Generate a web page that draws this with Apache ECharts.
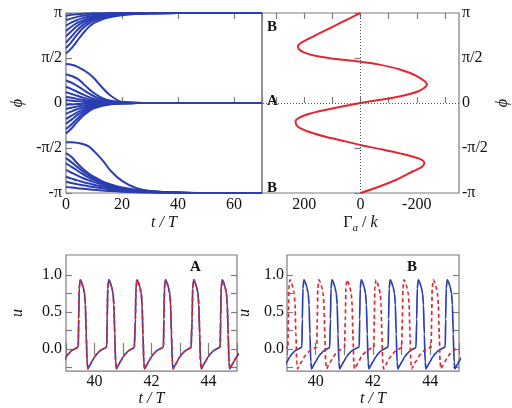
<!DOCTYPE html>
<html>
<head>
<meta charset="utf-8">
<title>phase locking</title>
<script src="https://cdn.jsdelivr.net/npm/echarts@6/dist/echarts.min.js"></script>
<style>
html, body { margin: 0; padding: 0; background: #fff; }
#chart { width: 512px; height: 408px; }
</style>
</head>
<body>
<div id="chart"></div>
<script>
// ---- top left: phase trajectories phi(t), phi in units of pi ----
var trajT = [0, 2, 4, 6, 8, 10, 13, 16, 20, 25, 30, 40, 50, 70];
var toPi = [
    [0.97, 0.98, 0.987, 0.992, 0.995, 0.997, 0.998, 0.999, 1, 1, 1, 1, 1, 1],
    [0.92, 0.94, 0.957, 0.97, 0.978, 0.985, 0.99, 0.994, 0.997, 0.999, 1, 1, 1, 1],
    [0.86, 0.895, 0.922, 0.943, 0.958, 0.97, 0.981, 0.988, 0.994, 0.997, 0.999, 1, 1, 1],
    [0.80, 0.85, 0.89, 0.918, 0.94, 0.956, 0.972, 0.982, 0.99, 0.995, 0.998, 1, 1, 1],
    [0.74, 0.80, 0.855, 0.895, 0.924, 0.945, 0.965, 0.977, 0.987, 0.994, 0.997, 1, 1, 1],
    [0.67, 0.74, 0.81, 0.865, 0.905, 0.932, 0.957, 0.972, 0.985, 0.993, 0.997, 1, 1, 1],
    [0.61, 0.68, 0.76, 0.83, 0.88, 0.915, 0.947, 0.966, 0.982, 0.991, 0.996, 0.999, 1, 1],
    [0.55, 0.61, 0.69, 0.77, 0.84, 0.89, 0.93, 0.955, 0.975, 0.988, 0.994, 0.999, 1, 1]
];
var toZeroUpper = [
    [0.432, 0.425, 0.405, 0.37, 0.33, 0.275, 0.17, 0.08, 0.012, 0.002, 0, 0, 0, 0],
    [0.32, 0.30, 0.27, 0.22, 0.16, 0.11, 0.055, 0.025, 0.009, 0.002, 0, 0, 0, 0],
    [0.25, 0.225, 0.19, 0.15, 0.11, 0.075, 0.038, 0.018, 0.006, 0.001, 0, 0, 0, 0],
    [0.18, 0.155, 0.125, 0.095, 0.068, 0.046, 0.024, 0.011, 0.004, 0.001, 0, 0, 0, 0],
    [0.12, 0.10, 0.08, 0.06, 0.043, 0.03, 0.016, 0.008, 0.003, 0, 0, 0, 0, 0],
    [0.07, 0.058, 0.046, 0.035, 0.025, 0.017, 0.009, 0.005, 0.002, 0, 0, 0, 0, 0],
    [0.03, 0.025, 0.02, 0.015, 0.011, 0.007, 0.004, 0.002, 0.001, 0, 0, 0, 0, 0]
];
var toZeroLower = [
    [-0.34, -0.28, -0.21, -0.145, -0.095, -0.06, -0.03, -0.014, -0.005, -0.001, 0, 0, 0, 0],
    [-0.29, -0.235, -0.175, -0.12, -0.08, -0.05, -0.025, -0.012, -0.004, -0.001, 0, 0, 0, 0],
    [-0.23, -0.185, -0.135, -0.095, -0.062, -0.04, -0.02, -0.01, -0.003, 0, 0, 0, 0, 0],
    [-0.18, -0.14, -0.105, -0.073, -0.048, -0.031, -0.016, -0.008, -0.003, 0, 0, 0, 0, 0],
    [-0.12, -0.093, -0.07, -0.05, -0.033, -0.021, -0.011, -0.005, -0.002, 0, 0, 0, 0, 0],
    [-0.066, -0.052, -0.039, -0.028, -0.019, -0.012, -0.006, -0.003, -0.001, 0, 0, 0, 0, 0],
    [-0.02, -0.016, -0.012, -0.009, -0.006, -0.004, -0.002, -0.001, 0, 0, 0, 0, 0, 0]
];
var toMinusPi = [
    [-0.435, -0.437, -0.443, -0.455, -0.48, -0.535, -0.635, -0.755, -0.865, -0.945, -0.978, -0.996, -1, -1],
    [-0.556, -0.6, -0.67, -0.73, -0.78, -0.82, -0.87, -0.905, -0.94, -0.965, -0.98, -0.994, -1, -1],
    [-0.613, -0.66, -0.71, -0.76, -0.80, -0.84, -0.88, -0.915, -0.947, -0.97, -0.983, -0.995, -1, -1],
    [-0.67, -0.71, -0.75, -0.79, -0.825, -0.855, -0.893, -0.924, -0.952, -0.973, -0.985, -0.996, -1, -1],
    [-0.744, -0.775, -0.805, -0.833, -0.857, -0.879, -0.908, -0.934, -0.958, -0.976, -0.987, -0.996, -1, -1],
    [-0.82, -0.84, -0.86, -0.877, -0.893, -0.908, -0.928, -0.947, -0.966, -0.98, -0.989, -0.997, -1, -1],
    [-0.876, -0.89, -0.902, -0.913, -0.924, -0.934, -0.948, -0.961, -0.975, -0.985, -0.992, -0.998, -1, -1],
    [-0.932, -0.94, -0.947, -0.953, -0.959, -0.965, -0.972, -0.979, -0.986, -0.992, -0.995, -0.999, -1, -1]
];
var phiTicks = ['-π', '-π/2', '0', 'π/2', 'π'];
var trajTicks = [0, 20, 40, 60];

// ---- top right: coupling function Gamma_a / k against phi ----
var gammaPhi = [1.0, 0.933, 0.858, 0.784, 0.709, 0.634, 0.597, 0.560, 0.522, 0.485, 0.459, 0.429, 0.373, 0.299,
    0.205, 0.131, 0.067, 0, -0.067, -0.131, -0.205, -0.261, -0.317, -0.373, -0.429, -0.466, -0.504, -0.560,
    -0.616, -0.664, -0.709, -0.784, -0.858, -0.933, -1.0];
var gammaVal = [0, 44, 92, 139, 187, 222, 219, 199, 157, 80, 0, -63, -140, -200,
    -236, -206, -129, 0, 109, 193, 231, 223, 187, 127, 50, 0, -57, -140,
    -206, -227, -218, -170, -123, -63, 0];
var gammaTicks = [-200, 0, 200];
var gammaMinor = [-300, -200, -100, 0, 100, 200, 300];

// ---- bottom: voltage traces u(t), one spike cycle + spike onsets ----
var cycleDt = [0, 0.015, 0.035, 0.07, 0.11, 0.17, 0.22, 0.25, 0.28, 0.31, 0.34, 0.41, 0.48, 0.57, 0.66, 0.75, 0.85, 0.93, 0.97];
var cycleU = [0.025, 0.4, 0.82, 0.935, 0.91, 0.84, 0.75, 0.6, 0.2, -0.18, -0.27, -0.22, -0.17, -0.11, -0.065, -0.03, -0.005, 0.01, 0.02];
var onsetA = [38.43, 39.43, 40.43, 41.42, 42.42, 43.41, 44.41];
var onsetBBlue = [38.52, 39.52, 40.50, 41.52, 42.53, 43.51, 44.52];
var onsetBRed = [38.03, 39.03, 40.04, 41.02, 42.03, 43.01, 44.03];
var tTicks = [40, 42, 44];
var uTicks = [0, 0.5, 1];
var uMinor = [-0.25, 0, 0.25, 0.5, 0.75, 1];

var BLUE = '#2b3db3';
var RED = '#e3262f';
var GRAY = '#7d7d7d';
var FONT = 'Liberation Serif';

function spikeTrain(onsets) {
    var d = [];
    onsets.forEach(function (t0) {
        for (var i = 0; i < cycleDt.length; i++) {
            d.push([+(t0 + cycleDt[i]).toFixed(3), cycleU[i]]);
        }
    });
    return d;
}

function tick(extra) {
    var t = { show: true, inside: true, length: 6, lineStyle: { color: GRAY, width: 1.2 } };
    for (var k in extra) t[k] = extra[k];
    return t;
}
var lab = { color: '#111', fontFamily: FONT, fontSize: 16 };

var chart = echarts.init(document.getElementById('chart'), null, { renderer: 'canvas' });

var series = [];
[toPi, toZeroUpper, toZeroLower, toMinusPi].forEach(function (group) {
    group.forEach(function (phi) {
        series.push({
            type: 'line', xAxisIndex: 0, yAxisIndex: 0, showSymbol: false, smooth: 0.4,
            lineStyle: { color: BLUE, width: 2 },
            data: trajT.map(function (t, i) { return [t, phi[i]]; })
        });
    });
});

series.push({
    type: 'line', xAxisIndex: 2, yAxisIndex: 1, showSymbol: false, smooth: 0.3,
    lineStyle: { color: RED, width: 2 },
    data: gammaPhi.map(function (p, i) { return [gammaVal[i], p]; }),
    markLine: {
        silent: true, symbol: ['none', 'none'], label: { show: false },
        lineStyle: { color: '#555', type: [1, 2], width: 1 },
        data: [{ xAxis: 0 }, { yAxis: 0 }]
    }
});

function trace(xi, yi, onsets, color, dashed) {
    return {
        type: 'line', xAxisIndex: xi, yAxisIndex: yi, showSymbol: false,
        smooth: 0.2, smoothMonotone: 'x',
        lineStyle: { color: color, width: 1.7, type: dashed ? [4, 3] : 'solid' },
        data: spikeTrain(onsets)
    };
}
series.push(trace(4, 2, onsetA, BLUE, false));
series.push(trace(4, 2, onsetA, RED, true));
series.push(trace(6, 4, onsetBBlue, BLUE, false));
series.push(trace(6, 4, onsetBRed, RED, true));

function phiFmt(v) { return phiTicks[Math.round((v + 1) / 0.5)]; }

var tName = { fontFamily: FONT, fontSize: 16, fontStyle: 'italic', color: '#111' };

var option = {
    animation: false,
    backgroundColor: '#fff',
    grid: [
        { left: 66, top: 13, width: 196, height: 180, show: true, borderColor: GRAY, borderWidth: 1.2 },
        { left: 262, top: 13, width: 197, height: 180, show: true, borderColor: GRAY, borderWidth: 1.2 },
        { left: 66, top: 255, width: 171, height: 117, show: true, borderColor: GRAY, borderWidth: 1.2 },
        { left: 287, top: 255, width: 172, height: 117, show: true, borderColor: GRAY, borderWidth: 1.2 }
    ],
    xAxis: [
        { gridIndex: 0, type: 'value', min: 0, max: 70, interval: 20, axisLine: { show: false },
          axisTick: tick(), splitLine: { show: false },
          axisLabel: Object.assign({ margin: 4, customValues: trajTicks }, lab),
          name: 't / T', nameLocation: 'middle', nameGap: 22, nameTextStyle: tName },
        { gridIndex: 0, type: 'value', position: 'top', min: 0, max: 70, interval: 20, axisLine: { show: false },
          axisTick: tick(), splitLine: { show: false }, axisLabel: { show: false } },
        { gridIndex: 1, type: 'value', inverse: true, min: -350, max: 350, axisLine: { show: false },
          axisTick: tick({ customValues: gammaMinor }), splitLine: { show: false },
          axisLabel: Object.assign({ margin: 4, customValues: gammaTicks }, lab),
          name: '{g|Γ}{s|a}{g| / }{k|k}', nameLocation: 'middle', nameGap: 19,
          nameTextStyle: { rich: {
              g: { fontFamily: FONT, fontSize: 16, color: '#111', lineHeight: 22, verticalAlign: 'middle' },
              s: { fontFamily: FONT, fontSize: 11, fontStyle: 'italic', color: '#111', lineHeight: 11, verticalAlign: 'bottom' },
              k: { fontFamily: FONT, fontSize: 16, fontStyle: 'italic', color: '#111', lineHeight: 22, verticalAlign: 'middle' }
          } } },
        { gridIndex: 1, type: 'value', inverse: true, position: 'top', min: -350, max: 350, axisLine: { show: false },
          axisTick: tick({ customValues: gammaMinor }), splitLine: { show: false }, axisLabel: { show: false } },
        { gridIndex: 2, type: 'value', min: 39, max: 45, interval: 1, axisLine: { show: false },
          axisTick: tick(), splitLine: { show: false },
          axisLabel: Object.assign({ margin: 3, customValues: tTicks }, lab),
          name: 't / T', nameLocation: 'middle', nameGap: 15, nameTextStyle: tName },
        { gridIndex: 2, type: 'value', position: 'top', min: 39, max: 45, interval: 1, axisLine: { show: false },
          axisTick: tick(), splitLine: { show: false }, axisLabel: { show: false } },
        { gridIndex: 3, type: 'value', min: 39, max: 45, interval: 1, axisLine: { show: false },
          axisTick: tick(), splitLine: { show: false },
          axisLabel: Object.assign({ margin: 3, customValues: tTicks }, lab),
          name: 't / T', nameLocation: 'middle', nameGap: 15, nameTextStyle: tName },
        { gridIndex: 3, type: 'value', position: 'top', min: 39, max: 45, interval: 1, axisLine: { show: false },
          axisTick: tick(), splitLine: { show: false }, axisLabel: { show: false } }
    ],
    yAxis: [
        { gridIndex: 0, type: 'value', min: -1, max: 1, interval: 0.5, axisLine: { show: false },
          axisTick: tick(), splitLine: { show: false },
          axisLabel: Object.assign({ margin: 4, formatter: phiFmt }, lab),
          name: 'ϕ', nameLocation: 'middle', nameGap: 40, nameRotate: 90, nameTextStyle: tName },
        { gridIndex: 1, type: 'value', position: 'right', min: -1, max: 1, interval: 0.5, axisLine: { show: false },
          axisTick: tick(), splitLine: { show: false },
          axisLabel: Object.assign({ margin: 3, formatter: phiFmt }, lab),
          name: 'ϕ', nameLocation: 'middle', nameGap: 36, nameRotate: 90, nameTextStyle: tName },
        { gridIndex: 2, type: 'value', min: -0.3, max: 1.27, axisLine: { show: false },
          axisTick: tick({ customValues: uMinor }), splitLine: { show: false },
          axisLabel: Object.assign({ margin: 4, customValues: uTicks, formatter: function (v) { return v.toFixed(1); } }, lab),
          name: 'u', nameLocation: 'middle', nameGap: 40, nameRotate: 90, nameTextStyle: tName },
        { gridIndex: 2, type: 'value', position: 'right', min: -0.3, max: 1.27, axisLine: { show: false },
          axisTick: tick({ customValues: uMinor }), splitLine: { show: false }, axisLabel: { show: false } },
        { gridIndex: 3, type: 'value', min: -0.3, max: 1.27, axisLine: { show: false },
          axisTick: tick({ customValues: uMinor }), splitLine: { show: false },
          axisLabel: Object.assign({ margin: 3, customValues: uTicks, formatter: function (v) { return v.toFixed(1); } }, lab),
          name: 'u', nameLocation: 'middle', nameGap: 34, nameRotate: 90, nameTextStyle: tName },
        { gridIndex: 3, type: 'value', position: 'right', min: -0.3, max: 1.27, axisLine: { show: false },
          axisTick: tick({ customValues: uMinor }), splitLine: { show: false }, axisLabel: { show: false } }
    ],
    graphic: [
        { type: 'text', left: 267, top: 20, style: { text: 'B', font: 'bold 15px "Liberation Serif"', fill: '#111' } },
        { type: 'text', left: 267, top: 94, style: { text: 'A', font: 'bold 15px "Liberation Serif"', fill: '#111' } },
        { type: 'text', left: 267, top: 181, style: { text: 'B', font: 'bold 15px "Liberation Serif"', fill: '#111' } },
        { type: 'text', left: 190, top: 260, style: { text: 'A', font: 'bold 15px "Liberation Serif"', fill: '#111' } },
        { type: 'text', left: 407, top: 260, style: { text: 'B', font: 'bold 15px "Liberation Serif"', fill: '#111' } }
    ],
    series: series
};

chart.setOption(option);
</script>
</body>
</html>
